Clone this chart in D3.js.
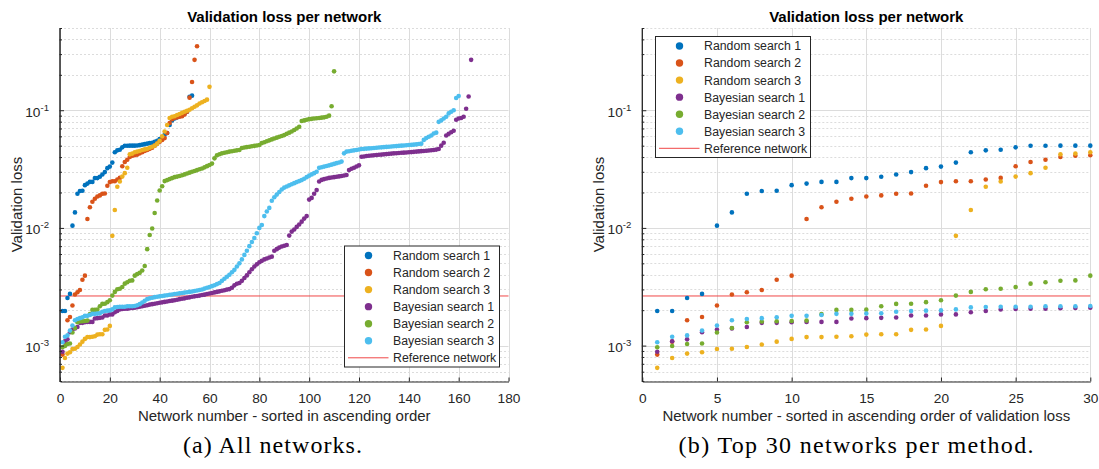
<!DOCTYPE html>
<html>
<head>
<meta charset="utf-8">
<script src="https://cdn.jsdelivr.net/npm/d3@7/dist/d3.min.js"></script>
<style>
body { margin: 0; background: #fff; }
text { font-family: "Liberation Sans", Arial, Helvetica, sans-serif; fill: #262626; }
.caption { font-family: "Liberation Serif", "DejaVu Serif", serif; fill: #000; }
</style>
</head>
<body>
<svg id="fig" width="1099" height="469"></svg>
<script>
// series names, in plotting order
var seriesNames = ['Random search 1', 'Random search 2', 'Random search 3',
                   'Bayesian search 1', 'Bayesian search 2', 'Bayesian search 3'];
var seriesColors = ['#0072bd', '#d95319', '#edb120', '#7e2f8e', '#77ac30', '#4dbeee'];

// validation loss per network, sorted ascending
var randomSearch1 = [
  1.97e-3, 1.97e-3, 2.54e-3, 2.75e-3, 1.045e-2, 1.355e-2, 1.95e-2, 2.06e-2, 2.07e-2, 2.31e-2,
  2.38e-2, 2.46e-2, 2.46e-2, 2.65e-2, 2.65e-2, 2.72e-2, 2.84e-2, 2.98e-2, 3.22e-2, 3.32e-2,
  3.59e-2, 4.39e-2, 4.56e-2, 4.62e-2, 4.84e-2, 4.99e-2, 4.99e-2, 5.00e-2, 5.00e-2, 5.00e-2,
  0.0502, 0.0505, 0.051, 0.0515, 0.052, 0.0525, 0.053, 0.054, 0.055, 0.057,
  0.059, 0.062, 0.064, 0.075, 0.082, 0.085, 0.087, 0.089, 0.091, 0.094,
  0.097, 0.130, 0.133
];
var randomSearch2 = [
  8.38e-4, 1.08e-3, 1.64e-3, 1.75e-3, 2.19e-3, 2.72e-3, 2.84e-3, 2.97e-3, 3.63e-3, 3.93e-3,
  1.19e-2, 1.50e-2, 1.67e-2, 1.77e-2, 1.85e-2, 1.89e-2, 1.95e-2, 1.96e-2, 2.28e-2, 2.45e-2,
  2.49e-2, 2.49e-2, 2.58e-2, 2.66e-2, 3.34e-2, 3.63e-2, 3.80e-2, 4.01e-2, 4.11e-2, 4.14e-2,
  0.042, 0.043, 0.044, 0.045, 0.046, 0.047, 0.048, 0.050, 0.052, 0.054,
  0.056, 0.058, 0.064, 0.078, 0.084, 0.086, 0.087, 0.088, 0.089, 0.092,
  0.097, 0.128, 0.174, 0.268, 0.350
];
var randomSearch3 = [
  6.47e-4, 7.85e-4, 8.55e-4, 8.77e-4, 9.35e-4, 9.40e-4, 9.73e-4, 1.02e-3, 1.08e-3, 1.14e-3,
  1.18e-3, 1.18e-3, 1.19e-3, 1.20e-3, 1.24e-3, 1.25e-3, 1.25e-3, 1.36e-3, 1.37e-3, 1.47e-3,
  8.56e-3, 1.42e-2, 2.24e-2, 2.48e-2, 2.73e-2, 2.92e-2, 3.25e-2, 4.22e-2, 4.28e-2, 4.39e-2,
  0.0445, 0.045, 0.046, 0.0465, 0.047, 0.048, 0.049, 0.050, 0.052, 0.055,
  0.060, 0.066, 0.075, 0.086, 0.088, 0.089, 0.091, 0.093, 0.095, 0.097,
  0.099, 0.101, 0.104, 0.107, 0.110, 0.114, 0.117, 0.120, 0.123, 0.158
];
var bayesianSearch1 = [
  8.87e-4, 1.087e-3, 1.13e-3, 1.30e-3, 1.37e-3, 1.40e-3, 1.44e-3, 1.56e-3, 1.56e-3, 1.58e-3,
  1.59e-3, 1.59e-3, 1.59e-3, 1.70e-3, 1.71e-3, 1.72e-3, 1.73e-3, 1.80e-3, 1.80e-3, 1.84e-3,
  1.84e-3, 1.92e-3, 1.97e-3, 2.03e-3, 2.05e-3, 2.06e-3, 2.06e-3, 2.08e-3, 2.09e-3, 2.10e-3,
  2.12e-3, 2.14e-3, 2.16e-3, 2.18e-3, 2.20e-3, 2.23e-3, 2.25e-3, 2.27e-3, 2.29e-3, 2.31e-3,
  2.33e-3, 2.35e-3, 2.37e-3, 2.39e-3, 2.41e-3, 2.43e-3, 2.45e-3, 2.48e-3, 2.50e-3, 2.52e-3,
  2.55e-3, 2.57e-3, 2.60e-3, 2.62e-3, 2.64e-3, 2.66e-3, 2.69e-3, 2.71e-3, 2.74e-3, 2.77e-3,
  2.80e-3, 2.83e-3, 2.86e-3, 2.89e-3, 2.92e-3, 2.95e-3, 2.99e-3, 3.02e-3, 3.10e-3, 3.25e-3,
  3.35e-3, 3.40e-3, 3.55e-3, 3.75e-3, 3.95e-3, 4.20e-3, 4.45e-3, 4.70e-3, 4.90e-3, 5.10e-3,
  5.25e-3, 5.40e-3, 5.50e-3, 5.60e-3, 5.70e-3, 6.40e-3, 6.60e-3, 6.80e-3, 6.95e-3, 7.05e-3,
  7.15e-3, 8.60e-3, 9.30e-3, 9.70e-3, 1.02e-2, 1.07e-2, 1.13e-2, 1.20e-2, 1.26e-2, 1.74e-2,
  1.80e-2, 1.95e-2, 2.10e-2, 2.48e-2, 2.56e-2, 2.60e-2, 2.63e-2, 2.66e-2, 2.68e-2, 2.70e-2,
  2.72e-2, 2.74e-2, 2.76e-2, 2.79e-2, 2.82e-2, 3.10e-2, 3.18e-2, 3.25e-2, 3.33e-2, 3.40e-2,
  4.03e-2, 4.05e-2, 4.08e-2, 4.10e-2, 4.12e-2, 4.14e-2, 4.16e-2, 4.18e-2, 4.20e-2, 4.22e-2,
  4.24e-2, 4.26e-2, 4.28e-2, 4.30e-2, 4.31e-2, 4.33e-2, 4.35e-2, 4.36e-2, 4.38e-2, 4.40e-2,
  4.41e-2, 4.43e-2, 4.45e-2, 4.47e-2, 4.49e-2, 4.51e-2, 4.53e-2, 4.55e-2, 4.57e-2, 4.60e-2,
  4.63e-2, 4.68e-2, 5.00e-2, 5.30e-2, 6.10e-2, 6.30e-2, 6.50e-2, 6.70e-2, 8.30e-2, 8.50e-2,
  8.60e-2, 8.80e-2, 0.103, 0.131, 0.268
];
var bayesianSearch2 = [
  9.67e-4, 9.93e-4, 1.03e-3, 1.04e-3, 1.29e-3, 1.41e-3, 1.58e-3, 1.60e-3, 1.61e-3, 1.62e-3,
  1.63e-3, 1.85e-3, 2.01e-3, 2.01e-3, 2.02e-3, 2.16e-3, 2.26e-3, 2.27e-3, 2.34e-3, 2.43e-3,
  2.66e-3, 2.86e-3, 3.01e-3, 3.04e-3, 3.15e-3, 3.36e-3, 3.45e-3, 3.56e-3, 3.58e-3, 3.93e-3,
  4.05e-3, 4.15e-3, 4.35e-3, 4.75e-3, 6.60e-3, 8.70e-3, 9.90e-3, 1.34e-2, 1.71e-2, 2.08e-2,
  2.26e-2, 2.50e-2, 2.55e-2, 2.60e-2, 2.65e-2, 2.70e-2, 2.73e-2, 2.76e-2, 2.80e-2, 2.85e-2,
  2.90e-2, 2.95e-2, 3.00e-2, 3.05e-2, 3.10e-2, 3.15e-2, 3.20e-2, 3.27e-2, 3.35e-2, 3.43e-2,
  3.52e-2, 3.90e-2, 4.15e-2, 4.23e-2, 4.30e-2, 4.35e-2, 4.40e-2, 4.45e-2, 4.48e-2, 4.52e-2,
  4.56e-2, 4.60e-2, 4.77e-2, 4.82e-2, 4.86e-2, 4.90e-2, 4.94e-2, 4.98e-2, 5.02e-2, 5.06e-2,
  5.26e-2, 5.35e-2, 5.45e-2, 5.55e-2, 5.65e-2, 5.75e-2, 5.85e-2, 5.95e-2, 6.05e-2, 6.15e-2,
  6.30e-2, 6.45e-2, 6.60e-2, 6.80e-2, 7.00e-2, 7.23e-2, 8.10e-2, 8.20e-2, 8.30e-2, 8.40e-2,
  8.45e-2, 8.50e-2, 8.55e-2, 8.60e-2, 8.65e-2, 8.70e-2, 8.80e-2, 9.00e-2, 0.108, 0.214
];
var bayesianSearch3 = [
  1.066e-3, 1.19e-3, 1.22e-3, 1.34e-3, 1.48e-3, 1.64e-3, 1.68e-3, 1.71e-3, 1.74e-3, 1.79e-3,
  1.79e-3, 1.82e-3, 1.86e-3, 1.86e-3, 1.87e-3, 1.88e-3, 1.94e-3, 1.97e-3, 1.98e-3, 1.99e-3,
  2.03e-3, 2.11e-3, 2.13e-3, 2.14e-3, 2.14e-3, 2.14e-3, 2.16e-3, 2.16e-3, 2.16e-3, 2.17e-3,
  2.20e-3, 2.25e-3, 2.32e-3, 2.40e-3, 2.48e-3, 2.52e-3, 2.55e-3, 2.58e-3, 2.60e-3, 2.62e-3,
  2.64e-3, 2.66e-3, 2.68e-3, 2.70e-3, 2.72e-3, 2.74e-3, 2.76e-3, 2.78e-3, 2.80e-3, 2.82e-3,
  2.84e-3, 2.86e-3, 2.88e-3, 2.91e-3, 2.94e-3, 2.97e-3, 3.00e-3, 3.05e-3, 3.10e-3, 3.15e-3,
  3.20e-3, 3.26e-3, 3.33e-3, 3.40e-3, 3.55e-3, 3.70e-3, 3.85e-3, 4.00e-3, 4.20e-3, 4.40e-3,
  4.70e-3, 5.00e-3, 5.40e-3, 5.90e-3, 6.40e-3, 7.00e-3, 7.60e-3, 8.20e-3, 9.00e-3, 1.00e-2,
  1.06e-2, 1.26e-2, 1.38e-2, 1.48e-2, 1.70e-2, 1.82e-2, 1.92e-2, 2.02e-2, 2.12e-2, 2.20e-2,
  2.25e-2, 2.30e-2, 2.35e-2, 2.40e-2, 2.45e-2, 2.50e-2, 2.55e-2, 2.62e-2, 2.70e-2, 2.78e-2,
  2.85e-2, 2.92e-2, 3.00e-2, 3.24e-2, 3.28e-2, 3.32e-2, 3.36e-2, 3.40e-2, 3.45e-2, 3.50e-2,
  3.55e-2, 3.60e-2, 3.66e-2, 4.30e-2, 4.45e-2, 4.48e-2, 4.52e-2, 4.56e-2, 4.60e-2, 4.64e-2,
  4.68e-2, 4.70e-2, 4.72e-2, 4.74e-2, 4.76e-2, 4.78e-2, 4.80e-2, 4.82e-2, 4.84e-2, 4.86e-2,
  4.88e-2, 4.90e-2, 4.92e-2, 4.94e-2, 4.96e-2, 4.98e-2, 5.00e-2, 5.02e-2, 5.04e-2, 5.06e-2,
  5.08e-2, 5.10e-2, 5.13e-2, 5.16e-2, 5.20e-2, 5.60e-2, 5.80e-2, 5.95e-2, 6.10e-2, 6.35e-2,
  6.45e-2, 7.97e-2, 8.20e-2, 8.50e-2, 8.80e-2, 9.40e-2, 9.70e-2, 0.100, 0.127, 0.132
];
var referenceLoss = 2.64e-3;

var yTicks = [1e-3, 1e-2, 1e-1];
var yTickLabels = ['-3', '-2', '-1'];
var xTicksAll = [0, 20, 40, 60, 80, 100, 120, 140, 160, 180];
var xTicksTop = [0, 5, 10, 15, 20, 25, 30];

var seriesValues = [randomSearch1, randomSearch2, randomSearch3,
                    bayesianSearch1, bayesianSearch2, bayesianSearch3];

var svg = d3.select('#fig');
var plotTop = 28, plotBottom = 381;
var refColor = '#f04646';

function drawPanel(opt) {
    var x = d3.scaleLinear().domain(opt.xDomain).range([opt.left, opt.right]);
    var y = d3.scaleLog().domain([5e-4, 0.5]).range([plotBottom, plotTop]);
    var g = svg.append('g');

    var minor = y.ticks().filter(function (t) { return yTicks.indexOf(t) < 0; });

    // grid
    g.append('g').selectAll('line').data(minor).enter().append('line')
        .attr('x1', opt.left).attr('x2', opt.right)
        .attr('y1', function (d) { return Math.round(y(d)) + 0.5; })
        .attr('y2', function (d) { return Math.round(y(d)) + 0.5; })
        .attr('stroke', '#d3d3d3').attr('stroke-width', 0.8)
        .attr('stroke-dasharray', '2,2');
    g.append('g').selectAll('line').data(yTicks).enter().append('line')
        .attr('x1', opt.left).attr('x2', opt.right)
        .attr('y1', function (d) { return Math.round(y(d)) + 0.5; })
        .attr('y2', function (d) { return Math.round(y(d)) + 0.5; })
        .attr('stroke', '#dcdcdc').attr('stroke-width', 1);
    g.append('g').selectAll('line').data(opt.xTicks).enter().append('line')
        .attr('y1', plotTop).attr('y2', plotBottom)
        .attr('x1', function (d) { return Math.round(x(d)) + 0.5; })
        .attr('x2', function (d) { return Math.round(x(d)) + 0.5; })
        .attr('stroke', '#dcdcdc').attr('stroke-width', 1);

    // reference network
    g.append('line')
        .attr('x1', opt.left).attr('x2', opt.right)
        .attr('y1', y(referenceLoss)).attr('y2', y(referenceLoss))
        .attr('stroke', refColor).attr('stroke-width', 1);

    // points
    seriesValues.forEach(function (vals, s) {
        var data = opt.count ? vals.slice(0, opt.count) : vals;
        g.append('g').selectAll('circle').data(data).enter().append('circle')
            .attr('cx', function (_, i) { return x(i + 1); })
            .attr('cy', function (d) { return y(d); })
            .attr('r', 2.3)
            .attr('fill', seriesColors[s]);
    });

    // axes
    var xAxis = d3.axisBottom(x).tickValues(opt.xTicks).tickSizeInner(-4)
        .tickSizeOuter(0).tickPadding(11.5);
    var gx = g.append('g').attr('transform', 'translate(0,' + (plotBottom + 0.5) + ')').call(xAxis);
    gx.selectAll('text').style('font-size', '13.7px').attr('fill', '#262626')
        .attr('font-family', null);
    gx.selectAll('line, path').attr('stroke', '#262626');

    var yMinorAxis = d3.axisLeft(y).tickValues(minor).tickSizeInner(-2.5)
        .tickSizeOuter(0).tickFormat('');
    var gym = g.append('g').attr('transform', 'translate(' + (opt.left - 0.5) + ',0)').call(yMinorAxis);
    gym.selectAll('line, path').attr('stroke', '#262626');

    var yAxis = d3.axisLeft(y).tickValues(yTicks).tickSizeInner(-4.5)
        .tickSizeOuter(0).tickFormat('');
    var gy = g.append('g').attr('transform', 'translate(' + (opt.left - 0.5) + ',0)').call(yAxis);
    gy.selectAll('line, path').attr('stroke', '#262626');

    var labels = g.append('g').selectAll('text').data(yTicks).enter().append('text')
        .attr('x', opt.left - 11)
        .attr('y', function (d) { return y(d) + 6.5; })
        .attr('text-anchor', 'end')
        .style('font-size', '13.7px');
    labels.append('tspan').text('10');
    labels.append('tspan')
        .attr('dy', -6)
        .style('font-size', '9.6px')
        .text(function (_, i) { return yTickLabels[i]; });

    // titles
    g.append('text')
        .attr('x', (opt.left + opt.right) / 2).attr('y', 21.5)
        .attr('text-anchor', 'middle')
        .style('font-size', '15px').style('font-weight', 'bold')
        .style('fill', '#000')
        .text('Validation loss per network');
    g.append('text')
        .attr('transform', 'translate(' + (opt.left - 38.5) + ',' + ((plotTop + plotBottom) / 2) + ') rotate(-90)')
        .attr('text-anchor', 'middle')
        .style('font-size', '15px')
        .text('Validation loss');
    g.append('text')
        .attr('x', (opt.left + opt.right) / 2).attr('y', 421)
        .attr('text-anchor', 'middle')
        .style('font-size', '15px')
        .text(opt.xLabel);
    g.append('text')
        .attr('class', 'caption')
        .attr('x', opt.captionX).attr('y', 453)
        .attr('text-anchor', 'middle')
        .attr('textLength', opt.captionWidth)
        .attr('lengthAdjust', 'spacing')
        .style('font-size', '24px')
        .text(opt.caption);

    // legend
    var lg = g.append('g').attr('transform', 'translate(' + opt.legend[0] + ',' + opt.legend[1] + ')');
    lg.append('rect')
        .attr('x', 0.5).attr('y', 0.5).attr('width', 155).attr('height', 121)
        .attr('fill', '#fff').attr('stroke', '#262626').attr('stroke-width', 1);
    var rows = seriesNames.concat(['Reference network']);
    var entries = lg.selectAll('.entry').data(rows).enter().append('g')
        .attr('class', 'entry')
        .attr('transform', function (_, i) { return 'translate(0,' + (10 + 17.05 * i) + ')'; });
    entries.filter(function (_, i) { return i < seriesNames.length; })
        .append('circle')
        .attr('cx', 24.5).attr('cy', 0).attr('r', 3.7)
        .attr('fill', function (_, i) { return seriesColors[i]; });
    entries.filter(function (_, i) { return i === seriesNames.length; })
        .append('line')
        .attr('x1', 4).attr('x2', 44.5).attr('y1', 0).attr('y2', 0)
        .attr('stroke', refColor).attr('stroke-width', 1);
    entries.append('text')
        .attr('x', 49).attr('y', 4.4)
        .style('font-size', '12.3px')
        .text(function (d) { return d; });
}

drawPanel({
    xDomain: [0, 180], left: 60, right: 508.5, xTicks: xTicksAll,
    xLabel: 'Network number - sorted in ascending order',
    caption: '(a) All networks.', captionX: 272.5, captionWidth: 179,
    legend: [344, 245.5]
});
drawPanel({
    xDomain: [0, 30], left: 642.3, right: 1090.3, xTicks: xTicksTop, count: 30,
    xLabel: 'Network number - sorted in ascending order of validation loss',
    caption: '(b) Top 30 networks per method.', captionX: 856, captionWidth: 355,
    legend: [655, 36]
});
</script>
</body>
</html>
